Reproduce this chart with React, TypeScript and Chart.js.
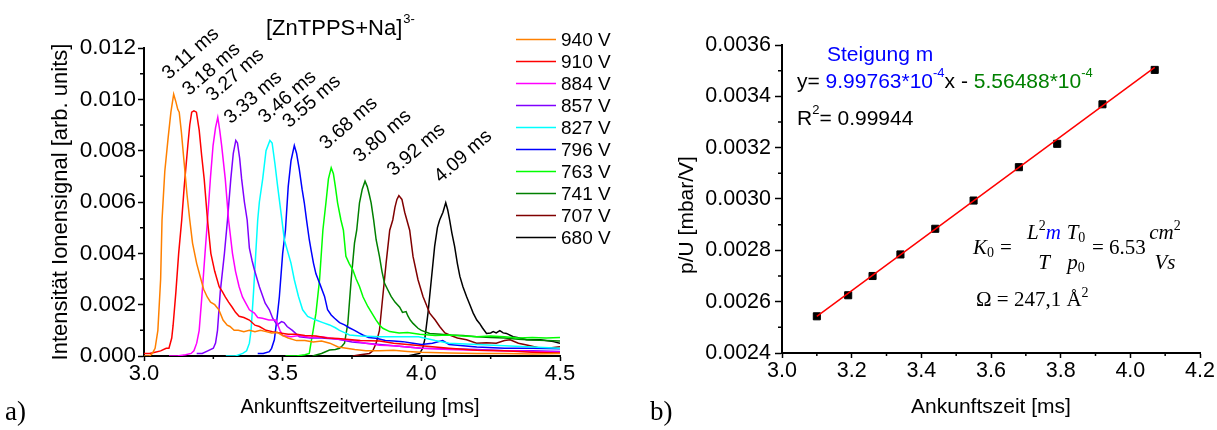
import React, { useEffect, useRef } from "react";
import { Chart, registerables } from "chart.js";

Chart.register(...registerables);

const SANS = '"Liberation Sans", Arial, sans-serif';
const SERIF = '"Liberation Serif", "Times New Roman", serif';

// ---------------- Panel a) data ----------------
const VOLTAGES = ["940 V", "910 V", "884 V", "857 V", "827 V", "796 V", "763 V", "741 V", "707 V", "680 V"];
const PEAK_LABELS = ["3.11 ms", "3.18 ms", "3.27 ms", "3.33 ms", "3.46 ms", "3.55 ms", "3.68 ms", "3.80 ms", "3.92 ms", "4.09 ms"];
const COLORS = ["#ff8000", "#ff0000", "#ff00ff", "#8000ff", "#00ffff", "#0000ff", "#00ff00", "#008000", "#800000", "#000000"];

const C940: [number, number][] = [
  [3.00, 0.0000], [3.02, 0.0000], [3.03, 0.0001], [3.04, 0.0003], [3.05, 0.0010], [3.06, 0.0030], [3.065, 0.0053],
  [3.075, 0.0072], [3.087, 0.0085], [3.097, 0.0095], [3.107, 0.0102], [3.115, 0.0099], [3.122, 0.0096], [3.127, 0.0095],
  [3.135, 0.0087], [3.145, 0.0075], [3.155, 0.0063], [3.165, 0.0053], [3.175, 0.0044], [3.19, 0.0036], [3.205, 0.0030],
  [3.215, 0.0026], [3.228, 0.0023], [3.24, 0.0021], [3.255, 0.0020], [3.27, 0.0018], [3.285, 0.0014], [3.30, 0.0012],
  [3.31, 0.00115], [3.325, 0.0010], [3.34, 0.0010], [3.36, 0.00095], [3.38, 0.0010], [3.40, 0.00095], [3.42, 0.0010],
  [3.44, 0.00095], [3.46, 0.0009], [3.48, 0.00092], [3.50, 0.0008], [3.52, 0.0007], [3.55, 0.0006], [3.58, 0.0006],
  [3.61, 0.00055], [3.64, 0.00058], [3.67, 0.0005], [3.70, 0.00035], [3.73, 0.0003], [3.76, 0.00025], [3.80, 0.0002],
  [3.85, 0.0002], [3.90, 0.00022], [3.95, 0.00018], [4.0, 0.00015], [4.1, 0.00012], [4.2, 0.0001], [4.3, 0.0001],
  [4.4, 0.00008], [4.5, 0.0001],
];
const C910: [number, number][] = [
  [3.00, 0.0001], [3.02, 0.0001], [3.04, 0.00015], [3.06, 0.0002], [3.08, 0.0003], [3.09, 0.0003], [3.10, 0.0007],
  [3.105, 0.0012], [3.115, 0.0025], [3.125, 0.0040], [3.136, 0.0053], [3.145, 0.0066], [3.158, 0.0082], [3.165, 0.0090],
  [3.172, 0.0095], [3.18, 0.00955], [3.189, 0.0095], [3.199, 0.0088], [3.208, 0.0078], [3.217, 0.0069], [3.229, 0.0053],
  [3.241, 0.0040], [3.255, 0.0033], [3.271, 0.0027], [3.283, 0.0025], [3.293, 0.0023], [3.305, 0.0021], [3.318, 0.0019],
  [3.33, 0.0017], [3.343, 0.00155], [3.36, 0.0015], [3.38, 0.0014], [3.40, 0.0012], [3.416, 0.00115], [3.44, 0.0010],
  [3.463, 0.00095], [3.49, 0.0009], [3.52, 0.00085], [3.55, 0.00085], [3.58, 0.0008], [3.62, 0.00078], [3.66, 0.0007],
  [3.70, 0.00068], [3.73, 0.00065], [3.78, 0.0006], [3.85, 0.00058], [3.90, 0.0005], [3.95, 0.00045], [4.0, 0.0004],
  [4.05, 0.00035], [4.1, 0.0003], [4.2, 0.00022], [4.3, 0.0002], [4.4, 0.00015], [4.5, 0.00012],
];
const C884: [number, number][] = [
  [3.09, 0.0000], [3.12, 0.0000], [3.15, 0.00005], [3.17, 0.0001], [3.18, 0.0002], [3.19, 0.0005], [3.199, 0.0010],
  [3.21, 0.0025], [3.22, 0.0040], [3.229, 0.0053], [3.24, 0.0070], [3.249, 0.0082], [3.258, 0.0089], [3.266, 0.0093],
  [3.273, 0.0088], [3.28, 0.0082], [3.293, 0.0069], [3.305, 0.0053], [3.319, 0.0040], [3.33, 0.0033], [3.343, 0.0027],
  [3.355, 0.0023], [3.365, 0.0021], [3.38, 0.0018], [3.398, 0.00167], [3.41, 0.0015], [3.427, 0.00147], [3.45, 0.0014],
  [3.476, 0.0014], [3.49, 0.0010], [3.50, 0.0008], [3.53, 0.00075], [3.56, 0.0008], [3.60, 0.00072], [3.64, 0.00075],
  [3.67, 0.0007], [3.70, 0.00065], [3.75, 0.0006], [3.80, 0.0005], [3.85, 0.00042], [3.90, 0.0004], [3.95, 0.00035],
  [4.0, 0.0003], [4.1, 0.00025], [4.2, 0.00022], [4.3, 0.0002], [4.4, 0.00018], [4.5, 0.00015],
];
const C857: [number, number][] = [
  [3.19, 0.0001], [3.21, 0.0001], [3.23, 0.0002], [3.25, 0.0003], [3.258, 0.0005], [3.265, 0.0010], [3.275, 0.0025],
  [3.29, 0.0040], [3.301, 0.0053], [3.313, 0.0069], [3.322, 0.0079], [3.331, 0.0084], [3.337, 0.0083], [3.345, 0.0077],
  [3.352, 0.0069], [3.362, 0.0060], [3.372, 0.0053], [3.38, 0.0042], [3.39, 0.0037], [3.398, 0.00336], [3.416, 0.0027],
  [3.437, 0.00206], [3.452, 0.0018], [3.464, 0.00147], [3.48, 0.00121], [3.496, 0.00134], [3.505, 0.0013],
  [3.516, 0.00115], [3.535, 0.0010], [3.56, 0.00075], [3.60, 0.0007], [3.64, 0.0007], [3.70, 0.00065], [3.75, 0.00055],
  [3.80, 0.0005], [3.85, 0.00045], [3.90, 0.0004], [3.95, 0.00035], [4.0, 0.0003], [4.1, 0.00028], [4.2, 0.00025],
  [4.3, 0.0002], [4.4, 0.0002], [4.5, 0.00018],
];
const C827: [number, number][] = [
  [3.295, 0.0000], [3.33, 0.0000], [3.356, 0.0001], [3.37, 0.0002], [3.38, 0.0005], [3.386, 0.0010], [3.395, 0.0025],
  [3.403, 0.0040], [3.41, 0.0053], [3.416, 0.0060], [3.428, 0.0069], [3.44, 0.0080], [3.454, 0.0084], [3.462, 0.0083],
  [3.472, 0.0075], [3.482, 0.0066], [3.495, 0.0055], [3.506, 0.00453], [3.52, 0.0040], [3.53, 0.00362], [3.542, 0.00297],
  [3.557, 0.00232], [3.572, 0.0018], [3.59, 0.00154], [3.62, 0.0014], [3.645, 0.0013], [3.669, 0.00121], [3.69, 0.0011],
  [3.705, 0.0010], [3.725, 0.0009], [3.741, 0.00082], [3.78, 0.00078], [3.85, 0.00075], [3.92, 0.00075], [3.99, 0.00075],
  [4.05, 0.0006], [4.1, 0.0005], [4.2, 0.00045], [4.3, 0.0004], [4.4, 0.00035], [4.5, 0.0003],
];
const C796: [number, number][] = [
  [3.41, 0.0001], [3.43, 0.0001], [3.452, 0.00017], [3.46, 0.0003], [3.47, 0.00063], [3.48, 0.0015], [3.488, 0.0023],
  [3.50, 0.0040], [3.51, 0.0049], [3.52, 0.0066], [3.53, 0.0076], [3.542, 0.0082], [3.55, 0.0079], [3.56, 0.00727],
  [3.57, 0.0065], [3.578, 0.00597], [3.586, 0.0053], [3.596, 0.00453], [3.603, 0.0041], [3.611, 0.00362], [3.62, 0.0032],
  [3.633, 0.00284], [3.651, 0.00232], [3.662, 0.0018], [3.675, 0.0016], [3.687, 0.00147], [3.705, 0.0013],
  [3.723, 0.00121], [3.74, 0.0011], [3.759, 0.0010], [3.775, 0.0009], [3.789, 0.00082], [3.81, 0.00072], [3.837, 0.00069],
  [3.87, 0.0006], [3.90, 0.00058], [3.933, 0.00056], [3.97, 0.0005], [4.0, 0.00045], [4.04, 0.0005], [4.077, 0.0006],
  [4.10, 0.00045], [4.15, 0.0004], [4.2, 0.00035], [4.3, 0.0003], [4.4, 0.0003], [4.5, 0.00028],
];
const C763: [number, number][] = [
  [3.51, 0.0000], [3.55, 0.0000], [3.58, 0.00005], [3.596, 0.0001], [3.602, 0.0005], [3.61, 0.0010], [3.62, 0.00167],
  [3.633, 0.00297], [3.645, 0.0049], [3.656, 0.00597], [3.665, 0.0069], [3.675, 0.00733], [3.683, 0.0071], [3.69, 0.0066],
  [3.698, 0.00597], [3.71, 0.0053], [3.719, 0.0049], [3.728, 0.00388], [3.74, 0.0036], [3.753, 0.00336], [3.765, 0.0030],
  [3.777, 0.00271], [3.79, 0.0023], [3.807, 0.00193], [3.82, 0.0017], [3.837, 0.0014], [3.85, 0.0012], [3.861, 0.00108],
  [3.886, 0.00095], [3.92, 0.0009], [3.95, 0.00092], [3.994, 0.00085], [4.05, 0.0008], [4.1, 0.00082], [4.15, 0.00078],
  [4.2, 0.00075], [4.25, 0.00078], [4.3, 0.00075], [4.35, 0.0007], [4.4, 0.00072], [4.45, 0.0007], [4.5, 0.00072],
];
const C741: [number, number][] = [
  [3.608, 0.0000], [3.64, 0.0001], [3.669, 0.00023], [3.69, 0.00025], [3.705, 0.0003], [3.715, 0.0004], [3.723, 0.0005],
  [3.735, 0.00127], [3.747, 0.00297], [3.759, 0.0044], [3.767, 0.0049], [3.777, 0.00597], [3.787, 0.0065],
  [3.797, 0.00681], [3.805, 0.0066], [3.812, 0.0063], [3.819, 0.00597], [3.828, 0.0053], [3.837, 0.00453],
  [3.849, 0.00388], [3.858, 0.0033], [3.867, 0.00284], [3.878, 0.0026], [3.891, 0.00232], [3.905, 0.0021], [3.922, 0.0019],
  [3.932, 0.0017], [3.945, 0.00173], [3.952, 0.00155], [3.96, 0.0014], [3.97, 0.00127], [3.988, 0.00108], [4.0, 0.0010],
  [4.03, 0.00088], [4.07, 0.00085], [4.1, 0.00082], [4.15, 0.0008], [4.2, 0.00075], [4.25, 0.00072], [4.3, 0.0007],
  [4.35, 0.00065], [4.4, 0.00062], [4.45, 0.0006], [4.5, 0.00058],
];
const C707: [number, number][] = [
  [3.753, 0.0000], [3.78, 0.00005], [3.813, 0.0001], [3.825, 0.0002], [3.837, 0.0005], [3.849, 0.0010], [3.861, 0.00232],
  [3.873, 0.00362], [3.886, 0.0049], [3.897, 0.0053], [3.905, 0.0058], [3.912, 0.0061], [3.919, 0.00625], [3.93, 0.0061],
  [3.94, 0.0056], [3.958, 0.0049], [3.97, 0.00388], [3.988, 0.00297], [4.006, 0.00232], [4.018, 0.0020], [4.03, 0.00167],
  [4.05, 0.0014], [4.066, 0.00115], [4.085, 0.0009], [4.102, 0.00082], [4.13, 0.0007], [4.163, 0.00063], [4.199, 0.0005],
  [4.235, 0.00052], [4.27, 0.0005], [4.30, 0.0006], [4.32, 0.00063], [4.35, 0.0005], [4.38, 0.00043], [4.43, 0.0003],
  [4.47, 0.00032], [4.5, 0.00036],
];
const C680: [number, number][] = [
  [3.85, 0.0000], [3.95, 0.0000], [3.994, 0.0001], [4.005, 0.0003], [4.012, 0.00063], [4.024, 0.00167], [4.036, 0.00297],
  [4.048, 0.00427], [4.058, 0.0050], [4.066, 0.0053], [4.078, 0.0056], [4.088, 0.00597], [4.095, 0.0057], [4.102, 0.0053],
  [4.11, 0.0048], [4.12, 0.00427], [4.13, 0.0036], [4.139, 0.0031], [4.15, 0.0027], [4.163, 0.00232], [4.175, 0.0020],
  [4.187, 0.00167], [4.20, 0.0014], [4.21, 0.00127], [4.22, 0.0011], [4.235, 0.00088], [4.25, 0.0009], [4.259, 0.00095],
  [4.27, 0.0009], [4.283, 0.00099], [4.295, 0.0009], [4.307, 0.00088], [4.331, 0.00075], [4.355, 0.0007], [4.38, 0.00063],
  [4.43, 0.00063], [4.476, 0.00056], [4.5, 0.0005],
];
const SERIES = [C940, C910, C884, C857, C827, C796, C763, C741, C707, C680];

const LEFT_X_TICKS = [3.0, 3.5, 4.0, 4.5];
const LEFT_X_MINOR = [3.25, 3.75, 4.25];
const LEFT_Y_TICKS = [0, 0.002, 0.004, 0.006, 0.008, 0.01, 0.012];
const LEFT_Y_MINOR = [0.001, 0.003, 0.005, 0.007, 0.009, 0.011];

// ---------------- Panel b) data ----------------
const ARRIVAL_TIMES = [3.10, 3.19, 3.26, 3.34, 3.44, 3.55, 3.68, 3.79, 3.92, 4.07];
const P_OVER_U = [0.002543, 0.002625, 0.0027, 0.002784, 0.002884, 0.002994, 0.003124, 0.003215, 0.003369, 0.003503];
const FIT_SLOPE = 9.99763e-4;
const FIT_INTERCEPT = -5.56488e-4;

const RIGHT_X_TICKS = [3.0, 3.2, 3.4, 3.6, 3.8, 4.0, 4.2];
const RIGHT_X_MINOR = [3.1, 3.3, 3.5, 3.7, 3.9, 4.1];
const RIGHT_Y_TICKS = [0.0024, 0.0026, 0.0028, 0.003, 0.0032, 0.0034, 0.0036];
const RIGHT_Y_MINOR = [0.0025, 0.0027, 0.0029, 0.0031, 0.0033, 0.0035];

// ---------------- helpers ----------------
type Run = { t: string; font: string; color: string; dy?: number };

function runsWidth(ctx: CanvasRenderingContext2D, items: Run[]) {
  let w = 0;
  for (const it of items) {
    ctx.font = it.font;
    w += ctx.measureText(it.t).width;
  }
  return w;
}
function drawRuns(ctx: CanvasRenderingContext2D, items: Run[], x: number, y: number) {
  let cx = x;
  ctx.textAlign = "left";
  ctx.textBaseline = "middle";
  for (const it of items) {
    ctx.font = it.font;
    ctx.fillStyle = it.color;
    ctx.fillText(it.t, cx, y + (it.dy || 0));
    cx += ctx.measureText(it.t).width;
  }
  return cx;
}
function drawRunsCentered(ctx: CanvasRenderingContext2D, items: Run[], cx: number, y: number) {
  const w = runsWidth(ctx, items);
  drawRuns(ctx, items, cx - w / 2, y);
}
function drawMinorTicks(chart: any, xMinor: number[], yMinor: number[]) {
  const { ctx, chartArea, scales } = chart;
  ctx.save();
  ctx.strokeStyle = "#000";
  ctx.lineWidth = 1.5;
  ctx.beginPath();
  for (const v of xMinor) {
    const px = scales.x.getPixelForValue(v);
    ctx.moveTo(px, chartArea.bottom);
    ctx.lineTo(px, chartArea.bottom + 3);
  }
  for (const v of yMinor) {
    const py = scales.y.getPixelForValue(v);
    ctx.moveTo(chartArea.left, py);
    ctx.lineTo(chartArea.left - 4, py);
  }
  ctx.stroke();
  ctx.restore();
}
function rotatedText(ctx: CanvasRenderingContext2D, text: string, x: number, y: number, angle: number, font: string, align: CanvasTextAlign, baseline: CanvasTextBaseline, color = "#000") {
  ctx.save();
  ctx.translate(x, y);
  ctx.rotate(angle);
  ctx.font = font;
  ctx.fillStyle = color;
  ctx.textAlign = align;
  ctx.textBaseline = baseline;
  ctx.fillText(text, 0, 0);
  ctx.restore();
}

const axisCommon = (tickLength: number, pad: number, size: number, fmt: (v: number) => string) => ({
  type: "linear" as const,
  grid: { display: true, drawOnChartArea: false, drawTicks: true, tickLength, tickWidth: 1.5, tickColor: "#000", color: "#000" },
  border: { display: true, color: "#000", width: 2 },
  ticks: { color: "#000", font: { family: SANS, size, lineHeight: 1.2 }, padding: pad, autoSkip: false, maxRotation: 0, callback: (v: any) => fmt(Number(v)) },
  title: { display: false },
});

// ---------------- Panel a) ----------------
function LeftPanel() {
  const ref = useRef<HTMLCanvasElement>(null);
  useEffect(() => {
    const W = 640, H = 430;
    const PLOT_LEFT = 144, PLOT_RIGHT = 560, PLOT_TOP = 48, PLOT_BOTTOM = 356, PAD_BOTTOM = 12;
    const decor = {
      id: "decorA",
      afterDraw(chart: any) {
        const { ctx, scales, chartArea } = chart;
        drawMinorTicks(chart, LEFT_X_MINOR, LEFT_Y_MINOR);
        ctx.save();
        // axis titles
        rotatedText(ctx, "Intensität Ionensignal [arb. units]", 61, (chartArea.top + chartArea.bottom) / 2, -Math.PI / 2, `22px ${SANS}`, "center", "middle");
        rotatedText(ctx, "Ankunftszeitverteilung [ms]", 360, 407, 0, `20px ${SANS}`, "center", "middle");
        // chart title
        ctx.font = `22px ${SANS}`;
        ctx.fillStyle = "#000";
        ctx.textAlign = "left";
        ctx.textBaseline = "alphabetic";
        const tt = "[ZnTPPS+Na]";
        ctx.fillText(tt, 266, 35);
        const tw = ctx.measureText(tt).width;
        ctx.font = `13px ${SANS}`;
        ctx.fillText("3-", 266 + tw + 1, 23);
        // legend
        for (let i = 0; i < VOLTAGES.length; i++) {
          const y = 39.5 + i * 22;
          ctx.strokeStyle = COLORS[i];
          ctx.lineWidth = 1.5;
          ctx.beginPath();
          ctx.moveTo(516, y);
          ctx.lineTo(556, y);
          ctx.stroke();
          ctx.font = `19px ${SANS}`;
          ctx.fillStyle = "#000";
          ctx.textBaseline = "middle";
          ctx.fillText(VOLTAGES[i], 561, y + 1);
        }
        // peak labels
        SERIES.forEach((s, i) => {
          let best = s[0];
          for (const p of s) if (p[1] > best[1]) best = p;
          const px = scales.x.getPixelForValue(best[0]);
          const py = scales.y.getPixelForValue(best[1]);
          rotatedText(ctx, PEAK_LABELS[i], px - 5, py - 14 - i * 0.6, -0.72, `19.5px ${SANS}`, "left", "alphabetic");
        });
        // panel letter
        ctx.font = `27px ${SERIF}`;
        ctx.fillStyle = "#000";
        ctx.textAlign = "left";
        ctx.textBaseline = "middle";
        ctx.fillText("a)", 5, 413);
        ctx.restore();
      },
    };
    const chart = new Chart(ref.current!, {
      type: "line",
      data: {
        datasets: SERIES.map((s, i) => ({
          label: VOLTAGES[i],
          data: s.map(([x, y]) => ({ x, y })),
          borderColor: COLORS[i],
          backgroundColor: COLORS[i],
          borderWidth: 1.5,
          pointRadius: 0,
          tension: 0,
          fill: false,
        })),
      },
      options: {
        animation: false,
        responsive: false,
        devicePixelRatio: 1,
        events: [],
        layout: { padding: { left: 0, right: W - PLOT_RIGHT, top: PLOT_TOP, bottom: PAD_BOTTOM } },
        plugins: { legend: { display: false }, tooltip: { enabled: false }, title: { display: false } },
        scales: {
          x: {
            ...axisCommon(5, 0, 22, (v) => v.toFixed(1)),
            min: 3,
            max: 4.5,
            afterBuildTicks: (sc: any) => { sc.ticks = LEFT_X_TICKS.map((v) => ({ value: v })); },
            afterFit: (sc: any) => { sc.height = H - PAD_BOTTOM - PLOT_BOTTOM; },
          },
          y: {
            ...axisCommon(6, 2, 22.5, (v) => v.toFixed(3)),
            min: 0,
            max: 0.012,
            afterBuildTicks: (sc: any) => { sc.ticks = LEFT_Y_TICKS.map((v) => ({ value: v })); },
            afterFit: (sc: any) => { sc.width = PLOT_LEFT; },
          },
        },
      } as any,
      plugins: [decor],
    });
    return () => chart.destroy();
  }, []);
  return <canvas ref={ref} width={640} height={430} style={{ position: "absolute", left: 0, top: 0, width: 640, height: 430 }} />;
}

// ---------------- Panel b) ----------------
function RightPanel() {
  const ref = useRef<HTMLCanvasElement>(null);
  useEffect(() => {
    const W = 577, H = 430;
    const PLOT_LEFT = 142, PLOT_RIGHT = 560, PLOT_TOP = 45, PLOT_BOTTOM = 353, PAD_BOTTOM = 12;
    const BLUE = "#0000ff";
    const GREEN = "#008000";
    const decor = {
      id: "decorB",
      afterDraw(chart: any) {
        const { ctx } = chart;
        drawMinorTicks(chart, RIGHT_X_MINOR, RIGHT_Y_MINOR);
        ctx.save();
        rotatedText(ctx, "p/U [mbar/V]", 47, 215, -Math.PI / 2, `21px ${SANS}`, "center", "middle");
        rotatedText(ctx, "Ankunftszeit [ms]", 351, 407, 0, `21px ${SANS}`, "center", "middle");
        const f = `21px ${SANS}`;
        const fs = `13px ${SANS}`;
        drawRuns(ctx, [{ t: "Steigung m", font: f, color: BLUE }], 187, 55);
        drawRuns(ctx, [
          { t: "y= ", font: f, color: "#000" },
          { t: "9.99763*10", font: f, color: BLUE },
          { t: "-4", font: fs, color: BLUE, dy: -9 },
          { t: "x - ", font: f, color: "#000" },
          { t: "5.56488*10", font: f, color: GREEN },
          { t: "-4", font: fs, color: GREEN, dy: -9 },
        ], 157, 82);
        drawRuns(ctx, [
          { t: "R", font: f, color: "#000" },
          { t: "2", font: fs, color: "#000", dy: -9 },
          { t: "= 0.99944", font: f, color: "#000" },
        ], 157, 119);
        // formula
        const fi = `italic 21px ${SERIF}`;
        const fu = `21px ${SERIF}`;
        const fsm = `14px ${SERIF}`;
        drawRuns(ctx, [
          { t: "K", font: fi, color: "#000" },
          { t: "0", font: fsm, color: "#000", dy: 5 },
        ], 333, 248);
        drawRuns(ctx, [{ t: "=", font: fu, color: "#000" }], 360, 248);
        drawRunsCentered(ctx, [
          { t: "L", font: fi, color: "#000" },
          { t: "2", font: fsm, color: "#000", dy: -7 },
          { t: "m", font: fi, color: BLUE },
        ], 404, 233);
        drawRunsCentered(ctx, [{ t: "T", font: fi, color: "#000" }], 404, 263);
        drawRunsCentered(ctx, [
          { t: "T", font: fi, color: "#000" },
          { t: "0", font: fsm, color: "#000", dy: 5 },
        ], 436, 233);
        drawRunsCentered(ctx, [
          { t: "p", font: fi, color: "#000" },
          { t: "0", font: fsm, color: "#000", dy: 5 },
        ], 436, 263);
        drawRuns(ctx, [{ t: "= 6.53", font: fu, color: "#000" }], 452, 248);
        drawRunsCentered(ctx, [
          { t: "cm", font: fi, color: "#000" },
          { t: "2", font: fsm, color: "#000", dy: -7 },
        ], 525, 233);
        drawRunsCentered(ctx, [{ t: "Vs", font: fi, color: "#000" }], 525, 263);
        drawRuns(ctx, [
          { t: "Ω = 247,1 Å", font: fu, color: "#000" },
          { t: "2", font: fsm, color: "#000", dy: -7 },
        ], 336, 300);
        ctx.font = `27px ${SERIF}`;
        ctx.fillStyle = "#000";
        ctx.textAlign = "left";
        ctx.textBaseline = "middle";
        ctx.fillText("b)", 10, 413);
        ctx.restore();
      },
    };
    const x0 = ARRIVAL_TIMES[0];
    const x1 = ARRIVAL_TIMES[ARRIVAL_TIMES.length - 1];
    const chart = new Chart(ref.current!, {
      type: "scatter",
      data: {
        datasets: [
          {
            label: "Fit",
            data: [x0, x1].map((x) => ({ x, y: FIT_SLOPE * x + FIT_INTERCEPT })),
            showLine: true,
            borderColor: "#ff0000",
            backgroundColor: "#ff0000",
            borderWidth: 1.5,
            pointRadius: 0,
          },
          {
            label: "p/U",
            data: ARRIVAL_TIMES.map((x, i) => ({ x, y: P_OVER_U[i] })),
            pointStyle: "rect",
            pointRadius: 5,
            backgroundColor: "#000",
            borderColor: "#000",
            borderWidth: 1,
            showLine: false,
          },
        ],
      },
      options: {
        animation: false,
        responsive: false,
        devicePixelRatio: 1,
        events: [],
        layout: { padding: { left: 0, right: W - PLOT_RIGHT, top: PLOT_TOP, bottom: PAD_BOTTOM } },
        plugins: { legend: { display: false }, tooltip: { enabled: false }, title: { display: false } },
        scales: {
          x: {
            ...axisCommon(5, 0, 21.5, (v) => v.toFixed(1)),
            min: 3,
            max: 4.2,
            afterBuildTicks: (sc: any) => { sc.ticks = RIGHT_X_TICKS.map((v) => ({ value: v })); },
            afterFit: (sc: any) => { sc.height = H - PAD_BOTTOM - PLOT_BOTTOM; },
          },
          y: {
            ...axisCommon(7, 4, 21.5, (v) => v.toFixed(4)),
            min: 0.0024,
            max: 0.0036,
            afterBuildTicks: (sc: any) => { sc.ticks = RIGHT_Y_TICKS.map((v) => ({ value: v })); },
            afterFit: (sc: any) => { sc.width = PLOT_LEFT; },
          },
        },
      } as any,
      plugins: [decor],
    });
    return () => chart.destroy();
  }, []);
  return <canvas ref={ref} width={577} height={430} style={{ position: "absolute", left: 640, top: 0, width: 577, height: 430 }} />;
}

export default function App() {
  return (
    <div style={{ position: "absolute", left: 0, top: 0, width: 1217, height: 430, background: "#fff", overflow: "hidden" }}>
      <LeftPanel />
      <RightPanel />
    </div>
  );
}
